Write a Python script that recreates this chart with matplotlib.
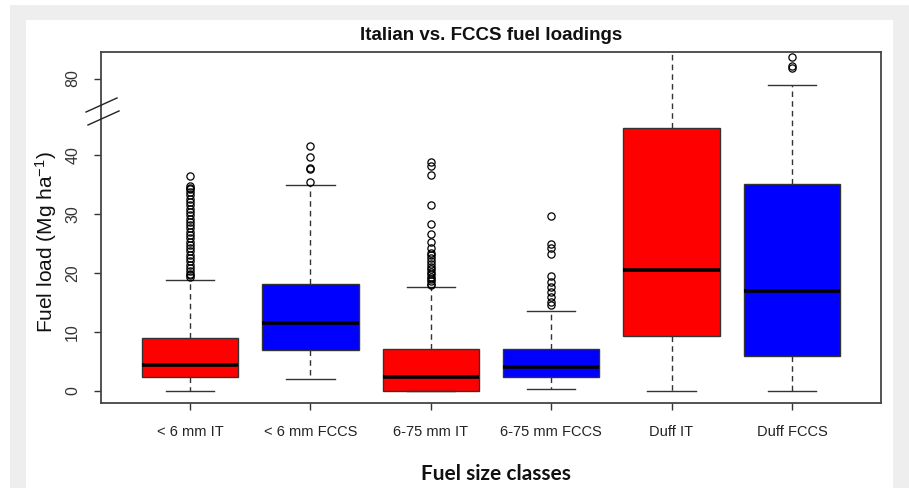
import numpy as np
import matplotlib
matplotlib.use("Agg")
import matplotlib.pyplot as plt
from matplotlib.patches import Rectangle

plt.rcParams["mathtext.fontset"] = "custom"
plt.rcParams["mathtext.rm"] = "Liberation Sans"
plt.rcParams["mathtext.it"] = "Liberation Sans:italic"
plt.rcParams["mathtext.bf"] = "Liberation Sans:bold"

# ---------------- data ----------------
categories = ["< 6 mm IT", "< 6 mm FCCS", "6-75 mm IT", "6-75 mm FCCS", "Duff IT", "Duff FCCS"]
q1_values = [2.3, 7.0, 0.0, 2.4, 9.3, 5.9]
median_values = [4.4, 11.5, 2.4, 4.1, 20.6, 17.0]
q3_values = [9.0, 18.2, 7.2, 7.2, 44.6, 35.1]
whisker_low = [0.0, 2.0, 0.0, 0.3, 0.0, 0.0]
whisker_high = [18.8, 34.9, 17.6, 13.5, 90.0, 78.9]

fliers_lt6_it = [19.3, 19.6, 19.9, 20.3, 20.8, 21.4, 22.0, 22.6, 23.1, 23.7, 24.2, 24.8,
                 25.3, 25.9, 26.5, 27.0, 27.6, 28.2, 28.7, 29.2, 29.8, 30.3, 30.9, 31.5,
                 32.0, 32.6, 33.2, 33.8, 34.2, 34.5, 34.8, 36.5]
fliers_lt6_fccs = [35.5, 37.6, 37.9, 39.7, 41.5]
fliers_675_it = [17.9, 18.2, 18.6, 19.0, 19.4, 19.8, 20.2, 20.7, 21.1, 21.6, 22.1, 22.5,
                 23.0, 23.4, 24.2, 25.2, 26.7, 28.4, 31.6, 36.7, 38.1, 38.9]
fliers_675_fccs = [14.6, 15.1, 16.0, 16.8, 17.7, 18.5, 19.5, 23.2, 24.2, 24.9, 29.7]
fliers_duff_it = []
fliers_duff_fccs = [81.8, 82.1, 83.6]
all_fliers = [fliers_lt6_it, fliers_lt6_fccs, fliers_675_it, fliers_675_fccs,
              fliers_duff_it, fliers_duff_fccs]

box_colors = ["#ff0000", "#0000ff", "#ff0000", "#0000ff", "#ff0000", "#0000ff"]
ytick_values = [0, 10, 20, 30, 40, 80]

title_text = "Italian vs. FCCS fuel loadings"
xlabel_text = "Fuel size classes"
ylabel_text = "Fuel load (Mg ha$^{-1}$)"

# ---------------- broken axis scale ----------------
GAP_LO, GAP_HI = 46.0, 73.0
EPS = 0.001
SHIFT = (GAP_HI - GAP_LO) * (1 - EPS)


def fwd(y):
    y = np.asarray(y, float)
    return np.where(y <= GAP_LO, y,
                    np.where(y >= GAP_HI, y - SHIFT, GAP_LO + (y - GAP_LO) * EPS))


def inv(v):
    v = np.asarray(v, float)
    b = GAP_LO + (GAP_HI - GAP_LO) * EPS
    return np.where(v <= GAP_LO, v,
                    np.where(v >= b, v + SHIFT, GAP_LO + (v - GAP_LO) / EPS))


# ---------------- figure ----------------
W, H = 909, 488
fig = plt.figure(figsize=(W / 100, H / 100), dpi=100)
fig.patch.set_facecolor("white")
fig.add_artist(Rectangle((10 / W, 0), 1 - 10 / W, (H - 5) / H, transform=fig.transFigure,
                         facecolor="#eeeeee", edgecolor="none", zorder=-20))
fig.add_artist(Rectangle((26 / W, 0), (893 - 26) / W, (H - 20) / H, transform=fig.transFigure,
                         facecolor="white", edgecolor="none", zorder=-19))

ax = fig.add_axes([101 / W, (H - 403) / H, (881 - 101) / W, (403 - 52) / H])
ax.set_facecolor("white")
ax.set_yscale("function", functions=(fwd, inv))

positions = np.arange(1, len(categories) + 1)
stats = []
for i, name in enumerate(categories):
    stats.append(dict(label=name, q1=q1_values[i], med=median_values[i], q3=q3_values[i],
                      whislo=whisker_low[i], whishi=whisker_high[i],
                      fliers=np.array(all_fliers[i])))

edge = "#333333"
bp = ax.bxp(stats, positions=positions, widths=0.8, patch_artist=True, showfliers=True,
            boxprops=dict(edgecolor=edge, linewidth=1.0),
            medianprops=dict(color="black", linewidth=2.6, solid_capstyle="butt"),
            whiskerprops=dict(color=edge, linewidth=1.0, linestyle=(0, (4, 3))),
            capprops=dict(color=edge, linewidth=1.0),
            capwidths=0.4,
            flierprops=dict(marker="o", markerfacecolor="none", markeredgecolor="black",
                            markersize=5.2, markeredgewidth=0.9, linestyle="none"))
for patch, c in zip(bp["boxes"], box_colors):
    patch.set_facecolor(c)

ax.set_xlim(0.26, 6.74)
ax.set_ylim(-2.05, 84.5)
ax.set_xticks(positions)
ax.set_xticklabels(categories, family=["Liberation Sans"], fontsize=10.5, color="#222222")
ax.set_yticks(ytick_values)
ax.set_yticklabels([str(v) for v in ytick_values], rotation=90, va="center",
                   family=["Liberation Sans"], fontsize=11.5, color="#333333")
ax.yaxis.set_minor_locator(matplotlib.ticker.NullLocator())
ax.tick_params(axis="y", which="major", length=5, width=1, color=edge, pad=10)
ax.tick_params(axis="x", which="major", length=5, width=1, color=edge, pad=11)

for s in ax.spines.values():
    s.set_color("#444444")
    s.set_linewidth(1.3)

# axis break marks
for (x0, y0, x1, y1) in [(-0.0192, 0.829, 0.0205, 0.869), (-0.0167, 0.792, 0.0231, 0.832)]:
    ax.plot([x0, x1], [y0, y1], transform=ax.transAxes, color="#222222", lw=1.0,
            clip_on=False, zorder=5)

ax.set_ylabel(ylabel_text, family=["Liberation Sans"], fontsize=15, color="#111111")
ax.yaxis.set_label_coords(-0.054, 0.459)
fig.text(496 / W, 1 - 474 / H, xlabel_text, family=["Lato", "DejaVu Sans"], fontweight="bold",
         fontsize=15, color="#111111", ha="center", va="center")
fig.text(491 / W, 1 - 35 / H, title_text, family=["Liberation Sans"], fontweight="bold",
         fontsize=13.5, color="#111111", ha="center", va="center")

fig.savefig("out.png", dpi=100, facecolor=fig.get_facecolor())
